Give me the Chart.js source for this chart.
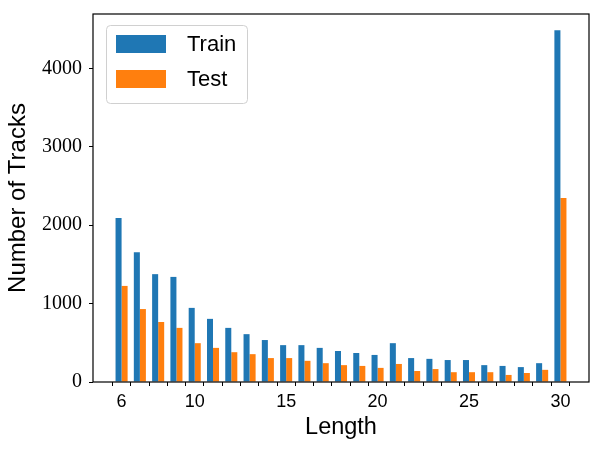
<!DOCTYPE html>
<html>
<head>
<meta charset="utf-8">
<script src="https://cdn.jsdelivr.net/npm/chart.js@4"></script>
<style>
  html, body { margin: 0; padding: 0; background: #fff; }
  #wrap { width: 602px; height: 452px; }
</style>
</head>
<body>
<div id="wrap"><canvas id="myChart" width="602" height="452"></canvas></div>
<script>
// track lengths on the x axis
var lengths = [6, 7, 8, 9, 10, 11, 12, 13, 14, 15, 16, 17, 18, 19, 20, 21, 22, 23, 24, 25, 26, 27, 28, 29, 30];
// number of tracks per length
var trainCounts = [2090, 1655, 1375, 1340, 945, 805, 690, 610, 535, 470, 470, 435, 395, 370, 345, 495, 305, 295, 280, 280, 215, 205, 190, 240, 4485];
var testCounts = [1225, 930, 765, 690, 495, 435, 380, 355, 305, 305, 270, 240, 215, 205, 180, 230, 140, 165, 125, 125, 125, 90, 115, 155, 2345];
var xLabelValues = [6, 10, 15, 20, 25, 30];
var yTickValues = [0, 1000, 2000, 3000, 4000];

var element = document.getElementById('myChart').getContext('2d');

function points(counts) {
    return lengths.map(function (l, i) { return {x: l, y: counts[i]}; });
}

var chartData = {
    datasets: [{
        label: 'Train',
        backgroundColor: '#1f77b4',
        data: points(trainCounts)
    }, {
        label: 'Test',
        backgroundColor: '#ff7f0e',
        data: points(testCounts)
    }]
};

// frame around the plot area, like matplotlib spines
var framePlugin = {
    id: 'frame',
    afterDatasetsDraw: function (chart) {
        var a = chart.chartArea, ctx = chart.ctx;
        ctx.save();
        ctx.strokeStyle = '#000';
        ctx.lineWidth = 1.2;
        ctx.strokeRect(a.left, a.top, a.right - a.left, a.bottom - a.top);
        ctx.restore();
    }
};

// legend box in the upper left corner
var legendPlugin = {
    id: 'boxLegend',
    afterDraw: function (chart) {
        var ctx = chart.ctx;
        ctx.save();
        ctx.beginPath();
        ctx.roundRect(106.5, 25.5, 141, 78, 4);
        ctx.fillStyle = 'rgba(255,255,255,0.8)';
        ctx.fill();
        ctx.strokeStyle = '#d0d0d0';
        ctx.lineWidth = 1;
        ctx.stroke();
        ctx.font = '22px "Liberation Sans"';
        ctx.textBaseline = 'middle';
        chart.data.datasets.forEach(function (ds, i) {
            var y = 44 + i * 35;
            ctx.fillStyle = ds.backgroundColor;
            ctx.fillRect(116, y - 9, 50, 18);
            ctx.fillStyle = '#000';
            ctx.fillText(ds.label, 187, y + 1);
        });
        ctx.restore();
    }
};

var chartOptions = {
    responsive: false,
    animation: false,
    layout: {padding: {top: 14, right: 13, left: 0, bottom: 0}},
    plugins: {legend: {display: false}, tooltip: {enabled: false}},
    datasets: {bar: {categoryPercentage: 0.66, barPercentage: 1.0}},
    scales: {
        x: {
            type: 'linear',
            min: 4.437,
            max: 31.563,
            offset: false,
            afterBuildTicks: function (scale) {
                scale.ticks = lengths.map(function (v) { return {value: v}; });
            },
            afterFit: function (scale) {
                scale.height = 70;
                scale.paddingLeft = 0;
                scale.paddingRight = 0;
            },
            border: {display: false},
            grid: {drawOnChartArea: false, drawTicks: true, tickLength: 4, color: '#000', lineWidth: 1},
            ticks: {
                autoSkip: false,
                maxRotation: 0,
                padding: 5,
                color: '#000',
                font: {family: '"Liberation Sans"', size: 18},
                callback: function (v) { return xLabelValues.indexOf(v) >= 0 ? String(v) : ''; }
            },
            title: {
                display: true,
                text: 'Length',
                color: '#000',
                font: {family: '"Liberation Sans"', size: 23.5},
                padding: {top: 0, bottom: 10}
            }
        },
        y: {
            min: 0,
            max: 4692,
            afterBuildTicks: function (scale) {
                scale.ticks = yTickValues.map(function (v) { return {value: v}; });
            },
            afterFit: function (scale) {
                scale.width = 93;
                scale.paddingTop = 0;
                scale.paddingBottom = 0;
            },
            border: {display: false},
            grid: {drawOnChartArea: false, drawTicks: true, tickLength: 4, color: '#000', lineWidth: 1},
            ticks: {
                padding: 7,
                color: '#000',
                font: {family: '"Liberation Serif"', size: 20},
                callback: function (v) { return String(v); }
            },
            title: {
                display: true,
                text: 'Number of Tracks',
                color: '#000',
                font: {family: '"Liberation Sans"', size: 24},
                padding: {top: 4, bottom: 0}
            }
        }
    }
};

var chart = new Chart(element, {type: 'bar', data: chartData, options: chartOptions, plugins: [framePlugin, legendPlugin]});
</script>
</body>
</html>
